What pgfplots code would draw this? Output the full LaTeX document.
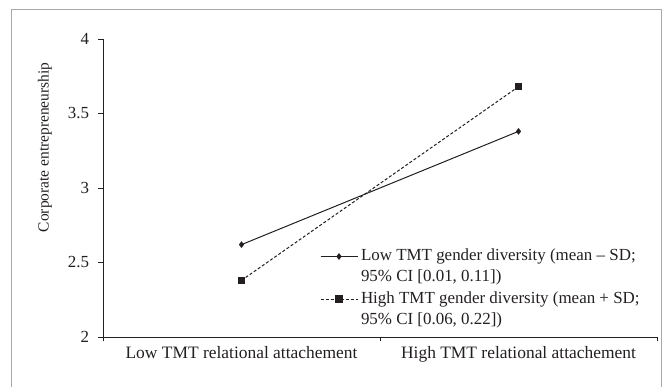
\documentclass[border=0pt]{standalone}
\usepackage{pgfplots}
\pgfplotsset{compat=1.18}
\usepackage{fontspec}
\setmainfont{Liberation Serif}
\definecolor{ink}{HTML}{231F20}
\definecolor{framegray}{HTML}{A8A8A8}
\begin{document}
\begin{tikzpicture}
\useasboundingbox (0,0) rectangle (666bp,387bp);
\draw[framegray, line width=0.8bp] (11bp,-2bp) -- (11bp,378bp) -- (661bp,378bp) -- (661bp,-2bp);
\begin{axis}[
  at={(103bp,50bp)}, anchor=south west,
  scale only axis, width=554bp, height=298bp,
  xmin=0, xmax=2, ymin=2, ymax=4,
  axis x line=bottom, axis y line=left,
  axis line style={-, ink, line width=0.8bp},
  xtick={0.5,1.5},
  xticklabels={Low TMT relational attachement, High TMT relational attachement},
  x tick style={draw=none},
  extra x ticks={0,1,2},
  extra x tick labels={},
  extra x tick style={x tick style={draw=ink}},
  ytick={2,2.5,3,3.5,4},
  yticklabels={2,2.5,3,3.5,4},
  tick align=outside,
  major tick length=4.5bp,
  tick style={ink, line width=0.6bp},
  yticklabel style={font=\fontsize{17}{20}\selectfont, text=ink, xshift=-6bp},
  xticklabel style={font=\fontsize{17.5}{21}\selectfont, text=ink, yshift=-1bp},
  ylabel={Corporate entrepreneurship},
  ylabel style={at={(axis description cs:-0.1047,0.636)}, anchor=center, rotate=0, font=\fontsize{15.5}{18}\selectfont, text=ink},
  legend style={draw=none, fill=none, inner sep=0pt, outer sep=0pt,
    at={(rel axis cs:0.3917,0.297)}, anchor=north west,
    font=\fontsize{17}{20}\selectfont, text=ink,
    nodes={inner sep=0pt, text height=12bp, text depth=4bp},
    row sep=5.3bp, column sep=3bp},
  legend cell align=left,
  legend image code/.code={\draw[mark repeat=2,mark phase=2] plot coordinates {(0bp,0bp) (18.5bp,0bp) (37bp,0bp)};},
]
\addplot[ink, line width=1bp, mark=diamond*, mark size=2.6bp, mark options={solid, fill=ink}]
  coordinates {(0.5,2.62) (1.5,3.38)};
\addlegendentry{Low TMT gender diversity (mean -- SD;}
\addlegendimage{empty legend}
\addlegendentry{95\% CI [0.01, 0.11])}
\addplot[ink, line width=1bp, dash pattern=on 3bp off 2bp, mark=square*, mark size=3.2bp, mark options={solid, fill=ink}]
  coordinates {(0.5,2.38) (1.5,3.68)};
\addlegendentry{High TMT gender diversity (mean + SD;}
\addlegendimage{empty legend}
\addlegendentry{95\% CI [0.06, 0.22])}
\end{axis}
\end{tikzpicture}
\end{document}
